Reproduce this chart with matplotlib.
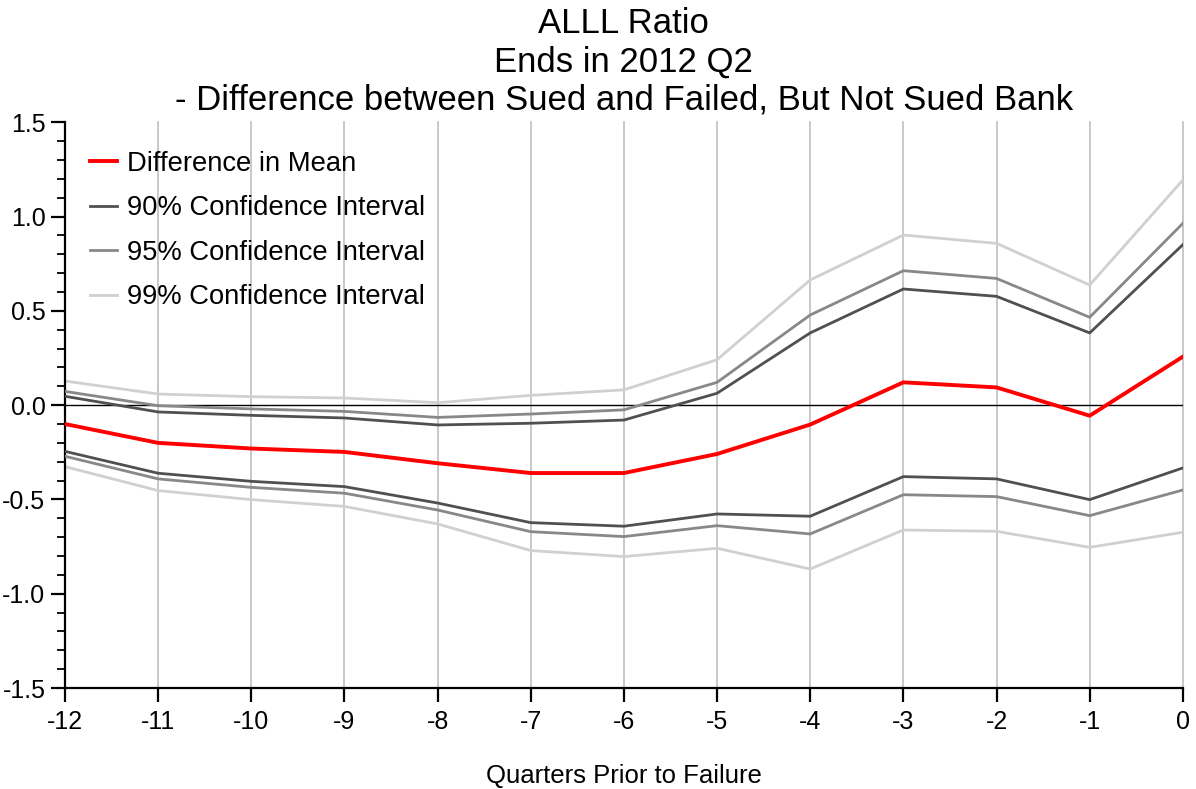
import matplotlib
matplotlib.use("Agg")
import matplotlib.pyplot as plt
from matplotlib.ticker import MultipleLocator

plt.rcParams["font.family"] = ["Liberation Sans", "DejaVu Sans"]

quarters = [-12, -11, -10, -9, -8, -7, -6, -5, -4, -3, -2, -1, 0]

diff_mean = [-0.10, -0.20, -0.23, -0.248, -0.308, -0.36, -0.36, -0.259, -0.103, 0.121, 0.094, -0.056, 0.257]

ci90_upper = [0.047, -0.036, -0.054, -0.068, -0.105, -0.096, -0.079, 0.063, 0.383, 0.616, 0.577, 0.383, 0.851]
ci90_lower = [-0.245, -0.361, -0.404, -0.432, -0.519, -0.623, -0.642, -0.577, -0.589, -0.379, -0.391, -0.501, -0.333]

ci95_upper = [0.073, -0.003, -0.020, -0.033, -0.065, -0.047, -0.025, 0.121, 0.478, 0.713, 0.672, 0.466, 0.964]
ci95_lower = [-0.271, -0.391, -0.436, -0.467, -0.556, -0.671, -0.697, -0.639, -0.683, -0.475, -0.485, -0.586, -0.450]

ci99_upper = [0.128, 0.059, 0.045, 0.038, 0.013, 0.052, 0.081, 0.241, 0.664, 0.902, 0.858, 0.637, 1.194]
ci99_lower = [-0.326, -0.453, -0.501, -0.537, -0.630, -0.771, -0.803, -0.759, -0.869, -0.662, -0.669, -0.754, -0.674]

title = "ALLL Ratio\nEnds in 2012 Q2\n- Difference between Sued and Failed, But Not Sued Bank"

fig = plt.figure(figsize=(11.96, 7.89), dpi=100)
ax = fig.add_axes([0.0543, 0.128, 0.9347, 0.717])

# vertical grid at each quarter
for q in quarters:
    ax.axvline(q, color="#c4c4c4", lw=1.3, zorder=0, clip_on=False)
ax.axhline(0, color="black", lw=1.0, zorder=1)

ax.plot(quarters, ci99_upper, color="#d0d0d0", lw=2.0, zorder=2)
ax.plot(quarters, ci99_lower, color="#d0d0d0", lw=2.0, zorder=2)
ax.plot(quarters, ci95_upper, color="#888888", lw=2.0, zorder=3)
ax.plot(quarters, ci95_lower, color="#888888", lw=2.0, zorder=3)
ax.plot(quarters, ci90_upper, color="#505050", lw=2.0, zorder=4)
ax.plot(quarters, ci90_lower, color="#505050", lw=2.0, zorder=4)
ax.plot(quarters, diff_mean, color="#ff0000", lw=2.8, zorder=5)

# legend handles in display order
handles = [
    plt.Line2D([], [], color="#ff0000", lw=2.8),
    plt.Line2D([], [], color="#505050", lw=2.0),
    plt.Line2D([], [], color="#888888", lw=2.0),
    plt.Line2D([], [], color="#d0d0d0", lw=2.0),
]
labels = ["Difference in Mean", "90% Confidence Interval",
          "95% Confidence Interval", "99% Confidence Interval"]
ax.legend(handles, labels, loc="upper left", bbox_to_anchor=(0.022, 0.95),
          frameon=False, fontsize=19.7, handlelength=1.0, handletextpad=0.37,
          labelspacing=0.68, borderaxespad=0.0, borderpad=0.0)

ax.set_xlim(-12, 0)
ax.set_ylim(-1.5, 1.5)
ax.set_xticks(quarters)
ax.set_xticklabels([str(q) for q in quarters])
ax.yaxis.set_major_locator(MultipleLocator(0.5))
ax.yaxis.set_minor_locator(MultipleLocator(0.1))
ax.yaxis.set_major_formatter(plt.FuncFormatter(lambda v, p: f"{v:.1f}"))

ax.spines["top"].set_visible(False)
ax.spines["right"].set_visible(False)
ax.spines["left"].set_linewidth(1.6)
ax.spines["bottom"].set_linewidth(1.6)
ax.tick_params(axis="both", which="major", direction="out", length=10,
               width=1.6, labelsize=18)
ax.tick_params(axis="y", which="minor", direction="out", length=6, width=1.3)
ax.tick_params(axis="x", pad=6)
ax.tick_params(axis="y", pad=4)

ax.set_xlabel("Quarters Prior to Failure", fontsize=18.5)
ax.xaxis.set_label_coords(0.5, -0.155)
ax.xaxis.label.set_va("center")
ax.set_title(title, fontsize=25, linespacing=1.2, pad=9)

fig.savefig("out.png", dpi=100)
